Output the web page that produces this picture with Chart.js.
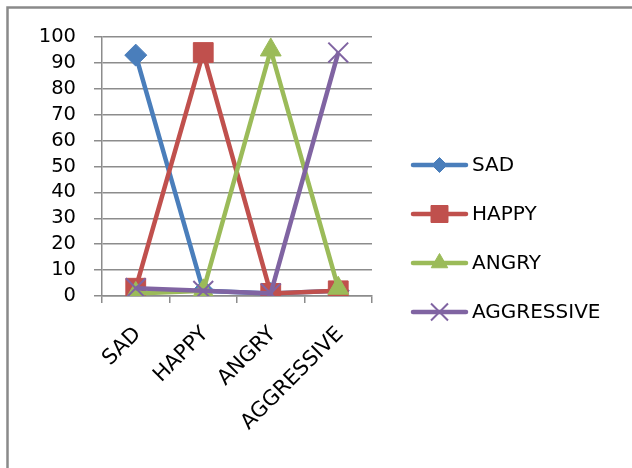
<!DOCTYPE html>
<html>
<head>
<meta charset="utf-8">
<script src="https://cdn.jsdelivr.net/npm/chart.js@4/dist/chart.umd.min.js"></script>
<style>
  html, body { margin: 0; padding: 0; background: #ffffff; }
  #wrap { width: 632px; height: 468px; position: relative; }
</style>
</head>
<body>
<div id="wrap"><canvas id="c" width="632" height="468"></canvas></div>
<script>
// Categories on the x axis
const categories = ['SAD', 'HAPPY', 'ANGRY', 'AGGRESSIVE'];

// One series per emotion
const sadValues = [93, 2, 1, 2];
const happyValues = [3, 94, 1, 2];
const angryValues = [1, 2, 95, 3];
const aggressiveValues = [3, 2, 1, 94];

const seriesNames = ['SAD', 'HAPPY', 'ANGRY', 'AGGRESSIVE'];

// Y axis ticks
const yTicks = [0, 10, 20, 30, 40, 50, 60, 70, 80, 90, 100];

const FONT = 'DejaVu Sans';
const GRID = '#8c8c8c';

function series(label, data, color, style, radius, bw, order) {
  return {
    label, data,
    borderColor: color,
    backgroundColor: color,
    pointBackgroundColor: color,
    pointBorderColor: color,
    pointStyle: style,
    pointRadius: radius,
    pointHoverRadius: radius,
    pointBorderWidth: bw,
    borderWidth: 4.5,
    tension: 0,
    order
  };
}

const datasets = [
  series(seriesNames[0], sadValues, '#4a7ebb', 'rectRot', 11, 1, 4),
  series(seriesNames[1], happyValues, '#c0504d', 'rect', 14, 1, 3),
  series(seriesNames[2], angryValues, '#9bbb59', 'triangle', 12, 1, 2),
  series(seriesNames[3], aggressiveValues, '#8064a2', 'crossRot', 14, 2, 1)
];

// Outer frame of the chart box
const framePlugin = {
  id: 'frame',
  beforeDraw(chart) {
    const ctx = chart.ctx;
    ctx.save();
    ctx.fillStyle = '#ffffff';
    ctx.fillRect(0, 0, chart.width, chart.height);
    ctx.strokeStyle = '#8a8a8a';
    ctx.lineWidth = 2.5;
    ctx.beginPath();
    ctx.moveTo(632, 7.5);
    ctx.lineTo(7.5, 7.5);
    ctx.lineTo(7.5, 468);
    ctx.stroke();
    ctx.restore();
  }
};

// Legend on the right: line with marker, then the series name
const sideLegend = {
  id: 'sideLegend',
  afterDraw(chart) {
    const ctx = chart.ctx;
    const x0 = 413, x1 = 466, tx = 472;
    const y0 = 165, step = 49;
    const legendRadius = { rectRot: 7.5, rect: 12, triangle: 9.5, crossRot: 12 };
    ctx.save();
    chart.data.datasets.forEach((ds, i) => {
      const y = y0 + i * step;
      ctx.strokeStyle = ds.borderColor;
      ctx.lineWidth = 4.5;
      ctx.lineCap = 'round';
      ctx.beginPath();
      ctx.moveTo(x0, y);
      ctx.lineTo(x1, y);
      ctx.stroke();
      ctx.lineCap = 'butt';
      ctx.fillStyle = ds.pointBackgroundColor;
      ctx.strokeStyle = ds.pointBorderColor;
      ctx.lineWidth = ds.pointBorderWidth;
      Chart.helpers.drawPoint(ctx, {
        pointStyle: ds.pointStyle,
        radius: legendRadius[ds.pointStyle],
        rotation: 0,
        borderWidth: ds.pointBorderWidth
      }, (x0 + x1) / 2, y);
      ctx.fillStyle = '#000000';
      ctx.font = '20px "' + FONT + '"';
      ctx.textBaseline = 'middle';
      ctx.textAlign = 'left';
      ctx.fillText(ds.label, tx, y + 1);
    });
    ctx.restore();
  }
};

new Chart(document.getElementById('c'), {
  type: 'line',
  data: { labels: categories, datasets },
  options: {
    responsive: false,
    animation: false,
    events: [],
    layout: { padding: { left: 0, top: 37, right: 260, bottom: 0 } },
    plugins: {
      legend: { display: false },
      tooltip: { enabled: false }
    },
    scales: {
      x: {
        type: 'category',
        offset: true,
        afterFit(s) { s.height = 172; },
        grid: {
          offset: true,
          drawOnChartArea: false,
          drawTicks: true,
          tickLength: 7,
          color: GRID,
          lineWidth: 1.5
        },
        border: { display: true, color: GRID, width: 1.5 },
        ticks: {
          autoSkip: false,
          maxRotation: 45,
          minRotation: 45,
          padding: 19,
          labelOffset: 2,
          color: '#000000',
          font: { family: FONT, size: 21 }
        }
      },
      y: {
        min: 0,
        max: 100,
        afterFit(s) { s.width = 102; },
        afterBuildTicks(s) { s.ticks = yTicks.map(v => ({ value: v })); },
        grid: {
          color: GRID,
          lineWidth: 1.5,
          tickLength: 8,
          drawTicks: true
        },
        border: { display: true, color: GRID, width: 1.5 },
        ticks: {
          autoSkip: false,
          padding: 18,
          color: '#000000',
          font: { family: FONT, size: 19.5 }
        }
      }
    }
  },
  plugins: [framePlugin, sideLegend]
});
</script>
</body>
</html>
